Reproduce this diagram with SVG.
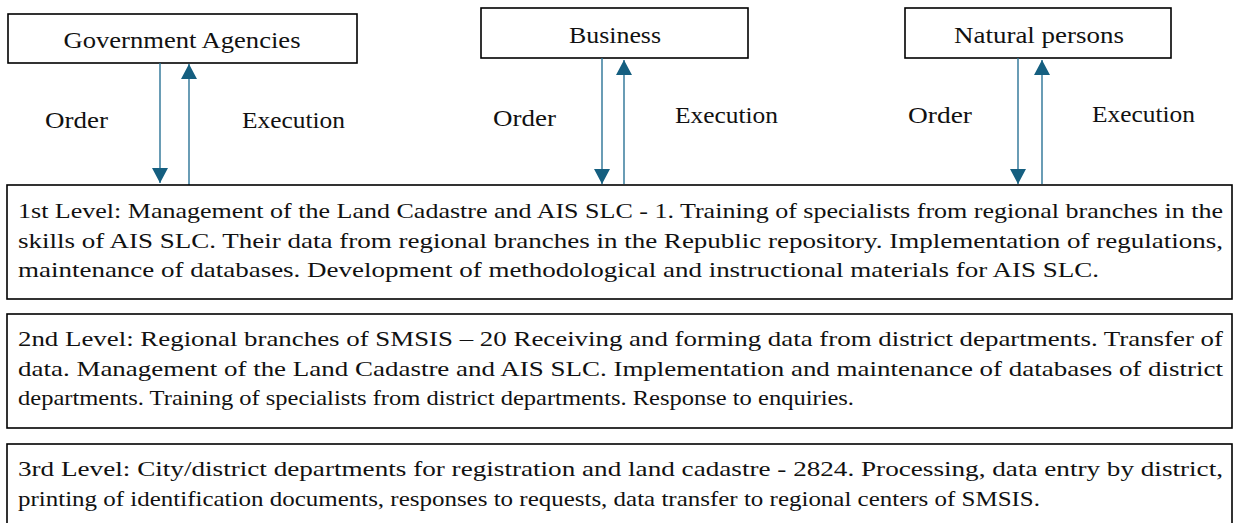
<svg xmlns="http://www.w3.org/2000/svg" width="1235" height="523" viewBox="0 0 1235 523">
  <style>
    .box { fill: #ffffff; stroke: #000000; stroke-width: 1.6; }
    .lbl { font-family: "Liberation Serif", "Times New Roman", serif; font-size: 23.5px; fill: #111111; }
    .lvl { font-family: "Liberation Serif", "Times New Roman", serif; font-size: 21.5px; fill: #111111; }
    .flow { stroke: #2a7396; stroke-width: 1.4; fill: none; }
    .head { fill: #155f80; }
  </style>
  <defs>
    <!-- solid triangular head, tip at the end of the line -->
    <marker id="tip" viewBox="0 0 15 16" refX="15" refY="8" markerWidth="15" markerHeight="16" markerUnits="userSpaceOnUse" orient="auto">
      <path class="head" d="M0,0 L15,8 L0,16 Z"/>
    </marker>
  </defs>

  <rect width="1235" height="523" fill="#ffffff"/>

  <!-- requesting parties -->
  <g id="government">
    <rect class="box" x="8" y="14" width="349" height="49"/>
    <text class="lbl" x="182" y="48" text-anchor="middle" textLength="237" lengthAdjust="spacingAndGlyphs">Government Agencies</text>
  </g>
  <g id="business">
    <rect class="box" x="481" y="8" width="267" height="50"/>
    <text class="lbl" x="615" y="43" text-anchor="middle" textLength="92" lengthAdjust="spacingAndGlyphs">Business</text>
  </g>
  <g id="natural-persons">
    <rect class="box" x="905" y="8" width="266" height="50"/>
    <text class="lbl" x="1039" y="43" text-anchor="middle" textLength="170" lengthAdjust="spacingAndGlyphs">Natural persons</text>
  </g>

  <!-- order / execution flows -->
  <g id="connectors">
    <line class="flow" x1="160" y1="63" x2="160" y2="183" marker-end="url(#tip)"/>
    <line class="flow" x1="189" y1="185" x2="189" y2="64" marker-end="url(#tip)"/>
    <line class="flow" x1="602" y1="58" x2="602" y2="184" marker-end="url(#tip)"/>
    <line class="flow" x1="624" y1="184" x2="624" y2="60" marker-end="url(#tip)"/>
    <line class="flow" x1="1018" y1="58" x2="1018" y2="184" marker-end="url(#tip)"/>
    <line class="flow" x1="1042" y1="184" x2="1042" y2="60" marker-end="url(#tip)"/>
    <text class="lbl" x="45" y="128" textLength="63" lengthAdjust="spacingAndGlyphs">Order</text>
    <text class="lbl" x="242" y="128" textLength="103" lengthAdjust="spacingAndGlyphs">Execution</text>
    <text class="lbl" x="493" y="126" textLength="63" lengthAdjust="spacingAndGlyphs">Order</text>
    <text class="lbl" x="675" y="123" textLength="103" lengthAdjust="spacingAndGlyphs">Execution</text>
    <text class="lbl" x="908" y="123" textLength="64" lengthAdjust="spacingAndGlyphs">Order</text>
    <text class="lbl" x="1092" y="122" textLength="103" lengthAdjust="spacingAndGlyphs">Execution</text>
  </g>

  <!-- administrative levels -->
  <g id="level-1">
    <rect class="box" x="7" y="185" width="1225" height="114"/>
    <text class="lvl" x="18" y="218" textLength="1205" lengthAdjust="spacingAndGlyphs">1st Level: Management of the Land Cadastre and AIS SLC - 1. Training of specialists from regional branches in the</text>
    <text class="lvl" x="18" y="247.5" textLength="1205" lengthAdjust="spacingAndGlyphs">skills of AIS SLC. Their data from regional branches in the Republic repository. Implementation of regulations,</text>
    <text class="lvl" x="18" y="277" textLength="1081" lengthAdjust="spacingAndGlyphs">maintenance of databases. Development of methodological and instructional materials for AIS SLC.</text>
  </g>
  <g id="level-2">
    <rect class="box" x="7" y="314" width="1225" height="114"/>
    <text class="lvl" x="18" y="346" textLength="1205" lengthAdjust="spacingAndGlyphs">2nd Level: Regional branches of SMSIS – 20 Receiving and forming data from district departments. Transfer of</text>
    <text class="lvl" x="18" y="375.5" textLength="1205" lengthAdjust="spacingAndGlyphs">data. Management of the Land Cadastre and AIS SLC. Implementation and maintenance of databases of district</text>
    <text class="lvl" x="18" y="405" textLength="836" lengthAdjust="spacingAndGlyphs">departments. Training of specialists from district departments. Response to enquiries.</text>
  </g>
  <g id="level-3">
    <rect class="box" x="7" y="444" width="1225" height="100"/>
    <text class="lvl" x="18" y="476" textLength="1205" lengthAdjust="spacingAndGlyphs">3rd Level: City/district departments for registration and land cadastre - 2824. Processing, data entry by district,</text>
    <text class="lvl" x="18" y="505.5" textLength="1022" lengthAdjust="spacingAndGlyphs">printing of identification documents, responses to requests, data transfer to regional centers of SMSIS.</text>
  </g>
</svg>
